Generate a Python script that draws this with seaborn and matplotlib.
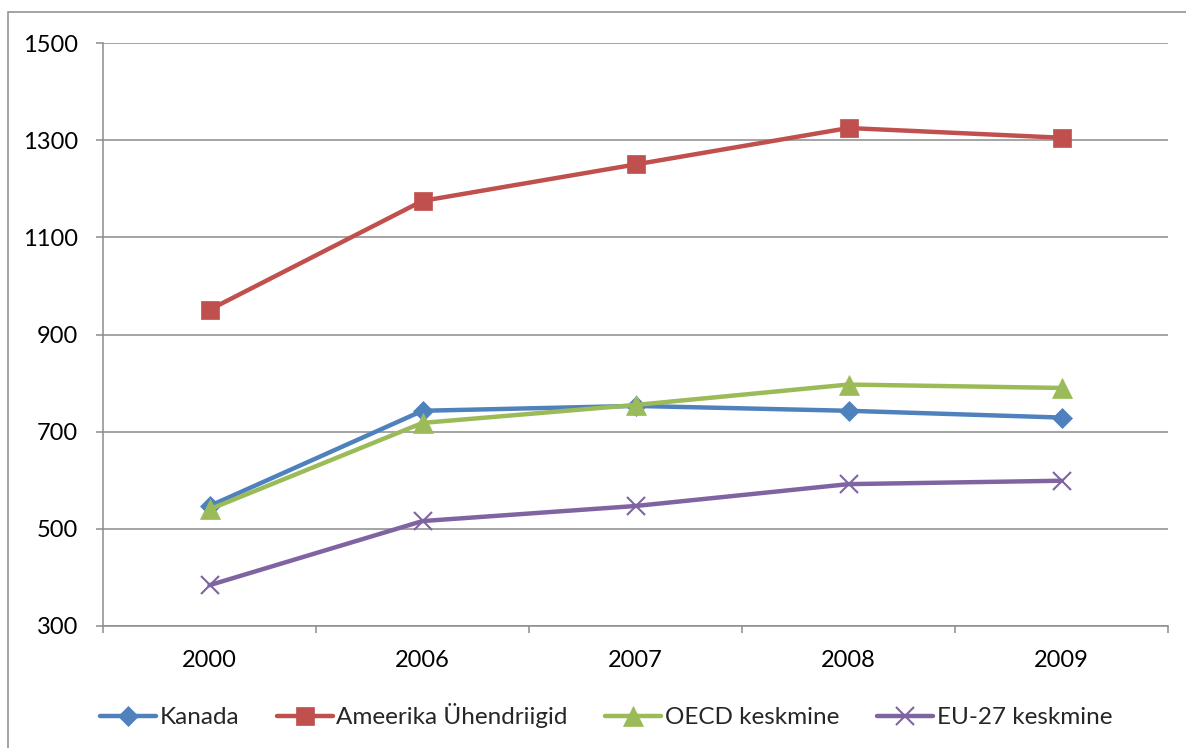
import matplotlib
matplotlib.use("Agg")
import matplotlib.pyplot as plt
from matplotlib.patches import Rectangle
from matplotlib.lines import Line2D
import seaborn as sns
import pandas as pd

years = ["2000", "2006", "2007", "2008", "2009"]
series_names = ["Kanada", "Ameerika Ühendriigid", "OECD keskmine", "EU-27 keskmine"]
kanada = [547, 743, 753, 743, 729]
usa = [951, 1175, 1250, 1325, 1305]
oecd = [540, 718, 755, 797, 790]
eu27 = [384, 516, 547, 592, 599]
y_ticks = [300, 500, 700, 900, 1100, 1300, 1500]

colors = ["#4F81BD", "#C0504D", "#9BBB59", "#8064A2"]
markers = ["D", "s", "^", "x"]
marker_sizes = [9.8, 13.5, 14, 13]
line_w = 3.2

df = pd.DataFrame({
    "year": years * 4,
    "value": kanada + usa + oecd + eu27,
    "series": [s for s in series_names for _ in years],
})

sns.set_theme(style="white")
plt.rcParams["font.family"] = ["Lato", "DejaVu Sans"]

W, H = 1186, 748
fig = plt.figure(figsize=(W / 100, H / 100), dpi=100)
ax = fig.add_axes([103 / W, 1 - 626 / H, (1168 - 103) / W, (626 - 43) / H])

sns.lineplot(
    data=df, x="year", y="value", hue="series",
    hue_order=series_names, palette=colors,
    linewidth=line_w, legend=False, ax=ax, sort=False,
)

grid_col = "#8C8C8C"
handles = []
for line, c, m, ms in zip(ax.lines, colors, markers, marker_sizes):
    mew = 1.5 if m == "x" else 0.5
    line.set_linewidth(line_w)
    line.set_marker(m)
    line.set_markersize(ms)
    line.set_markeredgecolor(c)
    line.set_markerfacecolor(c)
    line.set_markeredgewidth(mew)
    line.set_solid_joinstyle("round")
    handles.append(Line2D([], [], color=c, lw=line_w, marker=m, markersize=ms,
                          markerfacecolor=c, markeredgecolor=c,
                          markeredgewidth=mew))

ax.set_xlim(-0.5, len(years) - 0.5)
ax.set_ylim(300, 1500)
ax.set_yticks(y_ticks)
ax.set_yticklabels([str(t) for t in y_ticks])
ax.set_xticks(range(len(years)))
ax.set_xticklabels(years)
ax.set_xticks([i - 0.5 for i in range(len(years) + 1)], minor=True)
ax.set_xlabel("")
ax.set_ylabel("")

ax.yaxis.grid(True, color=grid_col, linewidth=1.1)
ax.xaxis.grid(False)
ax.set_axisbelow(True)
for side in ["top", "right"]:
    ax.spines[side].set_visible(False)
for side in ["left", "bottom"]:
    ax.spines[side].set_color(grid_col)
    ax.spines[side].set_linewidth(1.1)

ax.tick_params(axis="y", which="major", direction="out", length=5, width=1.1,
               color=grid_col, pad=13, labelsize=17, labelcolor="black", left=True)
ax.tick_params(axis="x", which="major", length=0, pad=17, labelsize=17, labelcolor="black")
ax.tick_params(axis="x", which="minor", direction="out", length=5, width=1.1,
               color=grid_col, bottom=True)

fig.legend(handles, series_names, loc="center", ncol=4,
           bbox_to_anchor=(606 / W, 1 - 716 / H), frameon=False,
           fontsize=17.5, handlelength=2.3, handletextpad=0.15,
           columnspacing=1.55)

fig.add_artist(Rectangle((8 / W, -0.05), 1.1, (H - 12) / H + 0.05,
                         transform=fig.transFigure, fill=False,
                         edgecolor=grid_col, linewidth=1.1))

fig.savefig("out.png", dpi=100)
